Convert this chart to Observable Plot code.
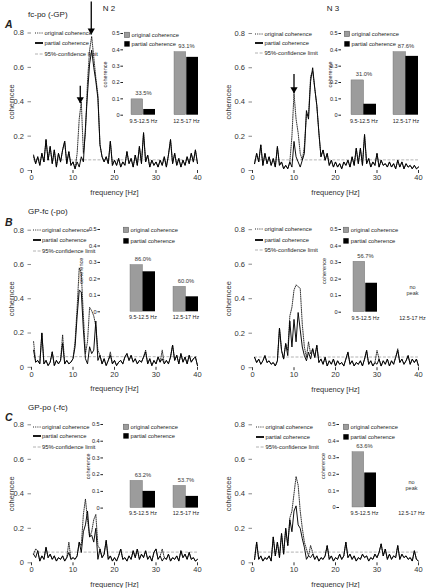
<!DOCTYPE html>
<html><head><meta charset="utf-8">
<script src="https://cdn.jsdelivr.net/npm/d3@7"></script>
<script src="https://cdn.jsdelivr.net/npm/@observablehq/plot@0.6"></script>
<style>
body{margin:0;background:#fff;font-family:"Liberation Sans",Arial,sans-serif;}
#root{position:relative;width:426px;height:588px;overflow:hidden;background:#fff;}
.t{position:absolute;white-space:nowrap;line-height:1;color:#222;}
.leg{position:absolute;font-size:5.8px;line-height:10px;height:10px;white-space:nowrap;color:#222;}
.leg svg{vertical-align:top;}
.leg span{vertical-align:top;margin-left:1.5px;}
</style></head><body><div id="root"></div>
<script>
// ---------- DATA ----------
const freq = [0.5,1,1.5,2,2.5,3,3.5,4,4.5,5,5.5,6,6.5,7,7.5,8,8.5,9,9.5,10,
 10.5,11,11.5,12,12.5,13,13.5,14,14.5,15,15.5,16,16.5,17,17.5,18,18.5,19,19.5,20,
 20.5,21,21.5,22,22.5,23,23.5,24,24.5,25,25.5,26,26.5,27,27.5,28,28.5,29,29.5,30,
 30.5,31,31.5,32,32.5,33,33.5,34,34.5,35,35.5,36,36.5,37,37.5,38,38.5,39,39.5,40];

const partialA2 = [0.09,0.04,0.08,0.03,0.10,0.05,0.18,0.06,0.14,0.04,
 0.12,0.02,0.10,0.05,0.12,0.17,0.04,0.11,0.03,0.05,
 0.01,0.05,0.02,0.08,0.05,0.25,0.45,0.62,0.70,0.60,
 0.52,0.42,0.15,0.08,0.05,0.08,0.04,0.17,0.03,0.06,
 0.03,0.07,0.02,0.05,0.03,0.11,0.04,0.07,0.02,0.09,
 0.03,0.14,0.04,0.22,0.05,0.09,0.02,0.06,0.03,0.05,
 0.02,0.06,0.03,0.08,0.02,0.09,0.18,0.04,0.10,0.03,
 0.07,0.02,0.06,0.03,0.08,0.04,0.10,0.05,0.12,0.04];
const originalA2 = [0.08,0.04,0.08,0.03,0.10,0.05,0.18,0.06,0.14,0.04,
 0.12,0.02,0.10,0.05,0.12,0.17,0.04,0.11,0.03,0.05,
 0.01,0.10,0.30,0.40,0.10,0.22,0.52,0.70,0.78,0.66,
 0.54,0.44,0.15,0.08,0.05,0.08,0.04,0.17,0.03,0.06,
 0.03,0.07,0.02,0.05,0.03,0.11,0.04,0.07,0.02,0.09,
 0.03,0.14,0.04,0.22,0.05,0.09,0.02,0.06,0.03,0.05,
 0.02,0.06,0.03,0.08,0.02,0.09,0.18,0.04,0.10,0.03,
 0.07,0.02,0.06,0.03,0.08,0.04,0.10,0.05,0.12,0.04];

const partialA3 = [0.04,0.10,0.05,0.15,0.03,0.10,0.04,0.08,0.03,0.07,
 0.02,0.14,0.03,0.05,0.01,0.03,0.01,0.05,0.02,0.17,
 0.08,0.05,0.02,0.06,0.10,0.35,0.30,0.52,0.60,0.48,
 0.38,0.22,0.08,0.12,0.06,0.10,0.03,0.06,0.02,0.05,
 0.02,0.04,0.01,0.05,0.03,0.06,0.02,0.08,0.03,0.13,
 0.04,0.13,0.03,0.21,0.04,0.07,0.02,0.05,0.03,0.10,
 0.02,0.06,0.03,0.04,0.02,0.05,0.02,0.04,0.01,0.06,
 0.02,0.05,0.01,0.04,0.02,0.03,0.01,0.03,0.01,0.02];
const originalA3 = [0.04,0.10,0.05,0.15,0.03,0.10,0.04,0.08,0.03,0.07,
 0.02,0.14,0.03,0.05,0.01,0.03,0.01,0.05,0.20,0.45,
 0.30,0.22,0.10,0.06,0.14,0.33,0.32,0.55,0.58,0.48,
 0.38,0.22,0.08,0.12,0.06,0.10,0.03,0.06,0.02,0.05,
 0.02,0.04,0.01,0.05,0.03,0.06,0.02,0.08,0.03,0.13,
 0.04,0.13,0.03,0.21,0.04,0.07,0.02,0.05,0.03,0.10,
 0.02,0.06,0.03,0.04,0.02,0.05,0.02,0.04,0.01,0.06,
 0.02,0.05,0.01,0.04,0.02,0.03,0.01,0.03,0.01,0.02];

const partialB2 = [0.10,0.03,0.04,0.02,0.20,0.02,0.04,0.01,0.03,0.09,
 0.01,0.04,0.02,0.04,0.14,0.02,0.04,0.02,0.03,0.05,
 0.12,0.30,0.45,0.44,0.22,0.05,0.02,0.12,0.08,0.10,
 0.27,0.04,0.07,0.02,0.05,0.01,0.04,0.07,0.02,0.04,
 0.01,0.03,0.04,0.02,0.06,0.08,0.04,0.07,0.03,0.05,
 0.02,0.04,0.03,0.06,0.09,0.02,0.05,0.01,0.04,0.02,
 0.06,0.03,0.05,0.02,0.04,0.02,0.06,0.13,0.04,0.07,
 0.02,0.08,0.03,0.06,0.02,0.07,0.03,0.05,0.06,0.01];
const originalB2 = [0.15,0.03,0.04,0.02,0.20,0.02,0.04,0.01,0.03,0.09,
 0.01,0.04,0.02,0.04,0.19,0.02,0.04,0.02,0.03,0.05,
 0.15,0.35,0.58,0.55,0.30,0.08,0.15,0.35,0.33,0.30,
 0.24,0.10,0.07,0.02,0.05,0.01,0.04,0.09,0.02,0.04,
 0.01,0.03,0.04,0.02,0.06,0.08,0.04,0.07,0.03,0.05,
 0.02,0.04,0.03,0.06,0.10,0.02,0.05,0.01,0.04,0.02,
 0.06,0.03,0.10,0.02,0.04,0.02,0.06,0.13,0.04,0.07,
 0.02,0.08,0.03,0.06,0.02,0.07,0.03,0.05,0.06,0.01];

const partialB3 = [0.06,0.03,0.05,0.02,0.04,0.07,0.03,0.04,0.02,0.03,
 0.01,0.04,0.23,0.10,0.05,0.14,0.07,0.27,0.12,0.28,
 0.15,0.32,0.22,0.12,0.07,0.04,0.09,0.05,0.11,0.06,
 0.13,0.03,0.05,0.02,0.06,0.01,0.04,0.02,0.05,0.01,
 0.04,0.02,0.03,0.01,0.05,0.09,0.02,0.04,0.01,0.03,
 0.02,0.04,0.01,0.05,0.10,0.02,0.04,0.01,0.03,0.02,
 0.05,0.01,0.04,0.02,0.05,0.01,0.04,0.02,0.06,0.10,
 0.03,0.05,0.02,0.04,0.07,0.02,0.05,0.03,0.05,0.01];
const originalB3 = [0.06,0.03,0.05,0.02,0.04,0.07,0.03,0.04,0.02,0.03,
 0.01,0.04,0.23,0.10,0.05,0.14,0.10,0.30,0.35,0.45,
 0.48,0.47,0.46,0.25,0.12,0.06,0.15,0.08,0.11,0.06,
 0.13,0.03,0.05,0.02,0.06,0.01,0.04,0.02,0.05,0.01,
 0.04,0.02,0.03,0.01,0.05,0.09,0.02,0.04,0.01,0.03,
 0.02,0.04,0.01,0.05,0.10,0.02,0.04,0.01,0.03,0.10,
 0.05,0.01,0.04,0.02,0.05,0.01,0.04,0.02,0.06,0.11,
 0.03,0.05,0.02,0.04,0.07,0.02,0.05,0.03,0.05,0.01];

const partialC2 = [0.05,0.03,0.07,0.01,0.04,0.02,0.09,0.03,0.05,0.02,
 0.04,0.01,0.03,0.02,0.04,0.01,0.03,0.06,0.02,0.03,
 0.02,0.04,0.12,0.06,0.18,0.22,0.30,0.15,0.16,0.12,
 0.20,0.02,0.08,0.03,0.05,0.13,0.02,0.04,0.01,0.03,
 0.01,0.04,0.08,0.02,0.03,0.01,0.04,0.02,0.07,0.03,
 0.08,0.02,0.05,0.03,0.07,0.02,0.04,0.01,0.06,0.08,
 0.02,0.04,0.01,0.03,0.02,0.05,0.01,0.03,0.02,0.04,
 0.01,0.07,0.03,0.05,0.02,0.06,0.02,0.03,0.01,0.02];
const originalC2 = [0.05,0.08,0.07,0.01,0.04,0.02,0.09,0.03,0.05,0.02,
 0.04,0.01,0.03,0.02,0.04,0.01,0.03,0.12,0.02,0.03,
 0.02,0.04,0.12,0.10,0.28,0.37,0.25,0.15,0.18,0.25,
 0.28,0.10,0.08,0.03,0.05,0.13,0.02,0.04,0.01,0.03,
 0.01,0.04,0.08,0.02,0.03,0.01,0.04,0.02,0.07,0.03,
 0.08,0.02,0.05,0.03,0.07,0.02,0.04,0.01,0.06,0.08,
 0.02,0.04,0.08,0.03,0.02,0.05,0.01,0.03,0.02,0.04,
 0.01,0.07,0.03,0.05,0.02,0.06,0.02,0.03,0.01,0.02];

const partialC3 = [0.02,0.12,0.02,0.04,0.01,0.03,0.02,0.04,0.01,0.15,
 0.04,0.12,0.03,0.17,0.05,0.20,0.10,0.25,0.18,0.30,
 0.33,0.22,0.20,0.14,0.09,0.02,0.04,0.03,0.05,0.02,
 0.04,0.01,0.03,0.02,0.04,0.10,0.02,0.04,0.01,0.03,
 0.02,0.05,0.02,0.04,0.12,0.03,0.05,0.02,0.04,0.01,
 0.03,0.02,0.05,0.03,0.04,0.01,0.03,0.02,0.05,0.03,
 0.06,0.11,0.04,0.08,0.02,0.05,0.02,0.04,0.03,0.10,
 0.02,0.05,0.03,0.04,0.02,0.03,0.01,0.07,0.02,0.01];
const originalC3 = [0.02,0.12,0.02,0.04,0.01,0.03,0.02,0.04,0.01,0.15,
 0.04,0.12,0.03,0.17,0.05,0.20,0.10,0.26,0.30,0.40,
 0.50,0.45,0.30,0.20,0.12,0.08,0.04,0.10,0.06,0.02,
 0.04,0.01,0.03,0.02,0.04,0.10,0.02,0.04,0.01,0.03,
 0.02,0.05,0.02,0.04,0.12,0.03,0.05,0.02,0.04,0.01,
 0.03,0.02,0.05,0.03,0.04,0.01,0.03,0.02,0.05,0.03,
 0.06,0.11,0.04,0.08,0.02,0.05,0.02,0.04,0.03,0.10,
 0.02,0.05,0.03,0.04,0.02,0.03,0.01,0.07,0.02,0.01];

const confLimit = 0.062;
const xTicks = [0,10,20,30,40];
const yTicks = [0,0.2,0.4,0.6,0.8];
const insetTicks = [0,0.1,0.2,0.3,0.4,0.5];

// arrows: frequency, arrow tip value, tail value
const arrowsA2 = [{f:11.75, tip:0.39, tail:0.49},{f:14.4, tip:0.79, tail:0.98}];
const arrowsA3 = [{f:10.0, tip:0.45, tail:0.56}];

// inset bars
const bandGroups = ["9.5-12.5 Hz","12.5-17 Hz"];
const origBarA2 = [0.097,0.386], partBarA2 = [0.035,0.354], pctA2 = ["33.5%","93.1%"];
const origBarA3 = [0.213,0.386], partBarA3 = [0.067,0.360], pctA3 = ["31.0%","87.6%"];
const origBarB2 = [0.284,0.152], partBarB2 = [0.243,0.091], pctB2 = ["86.0%","60.0%"];
const origBarB3 = [0.305,null],  partBarB3 = [0.175,null],  pctB3 = ["56.7%",null];
const origBarC2 = [0.163,0.133], partBarC2 = [0.100,0.070], pctC2 = ["63.2%","53.7%"];
const origBarC3 = [0.333,null],  partBarC3 = [0.208,null],  pctC3 = ["63.6%",null];

const legendMain = ["original coherence","partial coherence","95%-confidence limit"];
const legendInset = ["original coherence","partial coherence"];

// ---------- LAYOUT ----------
const root = document.getElementById("root");
const FONT = "'Liberation Sans', Arial, Helvetica, sans-serif";
function put(el, left, top){ el.style.position="absolute"; el.style.left=left+"px"; el.style.top=top+"px"; root.appendChild(el); return el; }
const fmt1 = d => d === 0 ? "0" : d.toFixed(1);

function spectrum(c){
  const rows = freq.map((f,i)=>({f, partial:c.partial[i], original:c.original[i]}));
  const conf = [{y:confLimit, x1:freq[0], x2:freq[freq.length-1]}];
  const mt = c.yTop - c.top, mb = c.top + c.h - c.yZero;
  const marks = [
    Plot.ruleY(conf,{y:"y",x1:"x1",x2:"x2",stroke:"#a0a0a0",strokeWidth:0.8,strokeDasharray:"3,1.6"}),
    Plot.line(rows,{x:"f",y:"original",stroke:"#111",strokeWidth:0.85,strokeDasharray:"1,1.2"}),
    Plot.line(rows,{x:"f",y:"partial",stroke:"#000",strokeWidth:0.95}),
    Plot.axisX({ticks:xTicks, tickSize:3, tickPadding:1, line:true, label:"frequency [Hz]", labelArrow:false, labelAnchor:"center", labelOffset:c.xlo}),
    Plot.axisY({ticks:yTicks, tickSize:3.5, tickPadding:4, tickFormat:fmt1, line:true, stroke:"#8a8a8a", label:"coherncee", labelArrow:false, labelAnchor:"center", labelOffset:c.ylo})
  ];
  if (c.arrows){
    marks.push(Plot.ruleX(c.arrows,{x:"f",y1:"tail",y2:"tip",stroke:"#000",strokeWidth:1.3}));
    marks.push(Plot.dot(c.arrows,{x:"f",y:"tip",symbol:"triangle",r:2.7,fill:"#000",stroke:"none",rotate:180,dy:-4.2}));
  }
  const svg = Plot.plot({
    width:c.w, height:c.h, marginTop:mt, marginBottom:mb, marginLeft:c.ml, marginRight:c.w - c.ml - c.pw,
    x:{domain:[0,40]}, y:{domain:[0,0.8]},
    style:{background:"transparent", fontFamily:FONT, fontSize:"7.5px", color:"#333", overflow:"visible"},
    marks
  });
  put(svg, c.left, c.top);
}

function inset(c){
  const data = bandGroups.map((g,i)=>({g, orig:c.orig[i], part:c.part[i], pct:c.pct[i]}));
  const bars = data.filter(d=>d.orig!=null);
  const empty = data.filter(d=>d.orig==null);
  const ml = 34, mt = 8, mb = 16;
  const left = c.axis - ml, top = c.yTop - mt;
  const ph = c.yZero - c.yTop;
  const width = c.b2end - left + 12;
  const span = c.b2end - c.b1, bw = c.bw;
  const pad = (span - 2*bw)/(span - bw);
  const marks = [
    Plot.barY(bars,{x:"g", y:"orig", fill:"#9c9c9c", stroke:"#6e6e6e", strokeWidth:0.4, insetRight:bw/2}),
    Plot.barY(bars,{x:"g", y:"part", fill:"#000", insetLeft:bw/2}),
    Plot.text(bars,{x:"g", y:"orig", text:"pct", dy:-6, fontSize:5.8, fill:"#333"}),
    Plot.text(empty,{x:"g", text:()=>"no\npeak", frameAnchor:"bottom", dy:-17, fontSize:5.5, lineHeight:1.15, fill:"#333"}),
    Plot.axisX({tickSize:0, tickPadding:3.5, label:null, fontSize:5.4}),
    Plot.axisY({ticks:insetTicks, tickFormat:fmt1, tickSize:2.6, tickPadding:1.2, line:true, fontSize:5.6, label:"coherence", labelArrow:false, labelAnchor:"center", labelOffset:c.ylo})
  ];
  const svg = Plot.plot({
    width, height: mt + ph + mb, marginTop:mt, marginBottom:mb, marginLeft:ml, marginRight:0,
    x:{type:"band", domain:bandGroups, range:[c.b1 - left, c.b2end - left], paddingInner:pad, paddingOuter:0},
    y:{domain:[0,0.5]},
    style:{background:"transparent", fontFamily:FONT, fontSize:"5.6px", color:"#222", overflow:"visible"},
    marks
  });
  put(svg, left, top);
}

function mainLegend(x, rows){
  const samples = [
    '<svg width="8" height="10"><line x1="0" x2="8" y1="5" y2="5" stroke="#111" stroke-width="0.9" stroke-dasharray="1,1.2"/></svg>',
    '<svg width="8" height="10"><line x1="0" x2="8" y1="5" y2="5" stroke="#000" stroke-width="1.8"/></svg>',
    '<svg width="8" height="10"><line x1="0" x2="8" y1="5" y2="5" stroke="#a0a0a0" stroke-width="0.8" stroke-dasharray="3,1.6"/></svg>'
  ];
  legendMain.forEach((t,i)=>{
    const d = document.createElement("div"); d.className="leg";
    d.innerHTML = samples[i] + '<span>' + t + '</span>';
    put(d, x, rows[i]-5);
  });
}
function insetLegend(x, rows){
  const samples = [
    '<svg width="6" height="10"><rect x="0.3" y="2.2" width="5.4" height="5.4" fill="#9c9c9c" stroke="#555" stroke-width="0.5"/></svg>',
    '<svg width="6" height="10"><rect x="0.3" y="2.2" width="5.4" height="5.4" fill="#000"/></svg>'
  ];
  legendInset.forEach((t,i)=>{
    const d = document.createElement("div"); d.className="leg";
    d.innerHTML = samples[i] + '<span>' + t + '</span>';
    put(d, x, rows[i]-5);
  });
}
function text(str, x, yc, size, extra, center){
  const d = document.createElement("div"); d.className="t";
  d.textContent = str; d.style.fontSize = size+"px";
  Object.assign(d.style, extra||{});
  put(d, x, yc - size*0.55);
  if (center) d.style.transform = "translateX(-50%)";
}

// main spectra
spectrum({left:0,   top:0,   w:213, h:200, ml:31, pw:166, yTop:32.5, yZero:170,   partial:partialA2, original:originalA2, arrows:arrowsA2, xlo:24, ylo:22.5});
spectrum({left:221, top:0,   w:205, h:200, ml:31, pw:166, yTop:33,   yZero:170,   partial:partialA3, original:originalA3, arrows:arrowsA3, xlo:24, ylo:26.5});
spectrum({left:0,   top:190, w:213, h:200, ml:31, pw:166, yTop:229.7,yZero:366.8, partial:partialB2, original:originalB2, xlo:24, ylo:22.5});
spectrum({left:221, top:190, w:205, h:200, ml:31, pw:166, yTop:229.2,yZero:367.2, partial:partialB3, original:originalB3, xlo:24, ylo:26.5});
spectrum({left:0,   top:385, w:213, h:203, ml:31, pw:166, yTop:424.3,yZero:562.3, partial:partialC2, original:originalC2, xlo:24, ylo:22.5});
spectrum({left:221, top:385, w:205, h:203, ml:31, pw:166, yTop:424.3,yZero:562.3, partial:partialC3, original:originalC3, xlo:24, ylo:26.5});

// legends in main panels
mainLegend(35, [33.3,43.3,53.7]);
mainLegend(255,[33.7,43.3,53.3]);
mainLegend(32.5,[230,240,250.7]);
mainLegend(255,[229,240,250]);
mainLegend(32.5,[426.7,436,446.7]);
mainLegend(256,[427,437,447]);

// insets
inset({axis:123,  yTop:33.3,  yZero:115,   b1:131, b2end:199, bw:24.5, orig:origBarA2, part:partBarA2, pct:pctA2, ylo:20});
inset({axis:341,  yTop:33.3,  yZero:115,   b1:351, b2end:418, bw:24.7, orig:origBarA3, part:partBarA3, pct:pctA3, ylo:13});
inset({axis:100,  yTop:228.7, yZero:311,   b1:130, b2end:198, bw:25,   orig:origBarB2, part:partBarB2, pct:pctB2, ylo:21});
inset({axis:340.7,yTop:229,   yZero:311.7, b1:352, b2end:424, bw:24.5, orig:origBarB3, part:partBarB3, pct:pctB3, ylo:19});
inset({axis:102.7,yTop:423.7, yZero:507.3, b1:130, b2end:198, bw:25,   orig:origBarC2, part:partBarC2, pct:pctC2, ylo:17});
inset({axis:339.3,yTop:424.3, yZero:507.3, b1:352, b2end:424, bw:24.5, orig:origBarC3, part:partBarC3, pct:pctC3, ylo:18});

insetLegend(124,  [34.7,44]);
insetLegend(344,  [34.3,43.7]);
insetLegend(123,  [230,240.7]);
insetLegend(343.3,[230,241]);
insetLegend(123,  [427,436]);
insetLegend(343,  [427,436.7]);

// titles
text("N 2", 109, 9, 8, {}, true);
text("N 3", 333, 9, 8, {}, true);
text("fc-po (-GP)", 28, 15, 8);
text("GP-fc (-po)", 28, 212.7, 8);
text("GP-po (-fc)", 28, 408, 8);
text("A", 5, 25, 10.5, {fontWeight:"bold", fontStyle:"italic"});
text("B", 5, 223, 10.5, {fontWeight:"bold", fontStyle:"italic"});
text("C", 5, 418, 10.5, {fontWeight:"bold", fontStyle:"italic"});
</script></body></html>
